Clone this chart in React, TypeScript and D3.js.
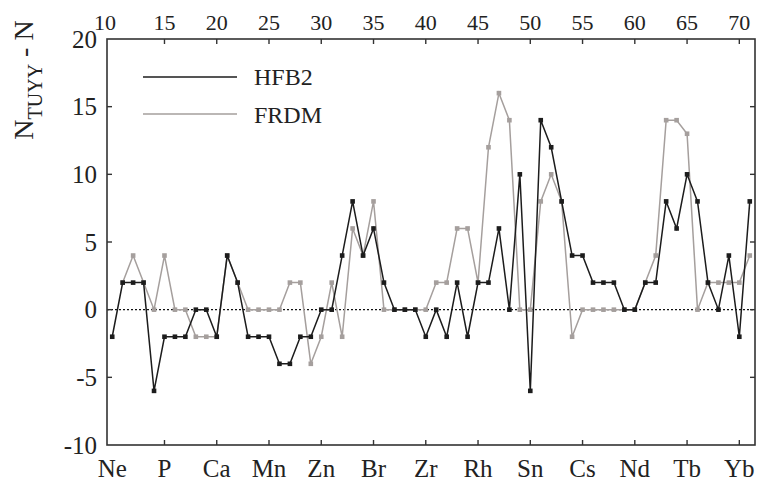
import * as d3 from "d3";
import React from "react";

// proton number of the first point; each array below runs one element per step
const zStart = 10;
const elementLabels = ["Ne", "P", "Ca", "Mn", "Zn", "Br", "Zr", "Rh", "Sn", "Cs", "Nd", "Tb", "Yb"];
const elementZ = [10, 15, 20, 25, 30, 35, 40, 45, 50, 55, 60, 65, 70];
const topTicks = [10, 15, 20, 25, 30, 35, 40, 45, 50, 55, 60, 65, 70];
const yTicks = [-10, -5, 0, 5, 10, 15, 20];

// Z = 10 .. 71
const hfb2 = [
  -2, 2, 2, 2, -6, -2, -2, -2, 0, 0,
  -2, 4, 2, -2, -2, -2, -4, -4, -2, -2,
  0, 0, 4, 8, 4, 6, 2, 0, 0, 0,
  -2, 0, -2, 2, -2, 2, 2, 6, 0, 10,
  -6, 14, 12, 8, 4, 4, 2, 2, 2, 0,
  0, 2, 2, 8, 6, 10, 8, 2, 0, 4,
  -2, 8,
];
// Z = 11 .. 71
const frdmStart = 11;
const frdm = [
  2, 4, 2, 0, 4, 0, 0, -2, -2,
  -2, 4, 2, 0, 0, 0, 0, 2, 2, -4,
  -2, 2, -2, 6, 4, 8, 0, 0, 0, 0,
  0, 2, 2, 6, 6, 2, 12, 16, 14, 0,
  0, 8, 10, 8, -2, 0, 0, 0, 0, 0,
  0, 2, 4, 14, 14, 13, 0, 2, 2, 2,
  2, 4,
];

const W = 760;
const H = 483;
const left = 107;
const right = 755;
const top = 39;
const bottom = 445;
const font = "Liberation Serif, Tinos, DejaVu Serif, Times New Roman, serif";

type Pt = { z: number; v: number };

function Series({ data, color, x, y }: { data: Pt[]; color: string; x: d3.ScaleLinear<number, number>; y: d3.ScaleLinear<number, number> }) {
  const line = d3
    .line<Pt>()
    .x((d) => x(d.z))
    .y((d) => y(d.v));
  const s = 4.6;
  return (
    <g>
      <path d={line(data) || ""} fill="none" stroke={color} strokeWidth={1.5} strokeLinejoin="miter" />
      {data.map((d) => (
        <rect key={d.z} x={x(d.z) - s / 2} y={y(d.v) - s / 2} width={s} height={s} fill={color} />
      ))}
    </g>
  );
}

export default function App() {
  const x = d3.scaleLinear().domain([9.5, 71.5]).range([left, right]);
  const y = d3.scaleLinear().domain([-10, 20]).range([bottom, top]);

  const hfbPts: Pt[] = hfb2.map((v, i) => ({ z: zStart + i, v }));
  const frdmPts: Pt[] = frdm.map((v, i) => ({ z: frdmStart + i, v }));

  const axisColor = "#333";
  const tickLen = 5;
  const txt = { fontFamily: font };

  return (
    <svg width={W} height={H} style={{ position: "absolute", left: 0, top: 0, background: "#fff", fontFamily: font }}>
      {/* zero line */}
      <line x1={left} x2={right} y1={y(0)} y2={y(0)} stroke="#111" strokeWidth={1.2} strokeDasharray="2,2" />

      <Series data={frdmPts} color="#a59f9d" x={x} y={y} />
      <Series data={hfbPts} color="#1c1c1c" x={x} y={y} />

      {/* frame */}
      <rect x={left} y={top} width={right - left} height={bottom - top} fill="none" stroke={axisColor} strokeWidth={1.6} />

      {/* top / bottom ticks */}
      {topTicks
        .filter((t) => t > 10)
        .map((t) => (
          <g key={"t" + t}>
            <line x1={x(t)} x2={x(t)} y1={top} y2={top + tickLen} stroke={axisColor} strokeWidth={1.4} />
            <line x1={x(t)} x2={x(t)} y1={bottom} y2={bottom - tickLen} stroke={axisColor} strokeWidth={1.4} />
          </g>
        ))}
      {topTicks.map((t) => (
        <text key={"tl" + t} style={txt} x={t === 10 ? left - 2 : x(t)} y={30} fontSize={22} textAnchor="middle" fill="#222">
          {t}
        </text>
      ))}

      {/* left / right ticks */}
      {yTicks
        .filter((t) => t > -10 && t < 20)
        .map((t) => (
          <g key={"y" + t}>
            <line x1={left} x2={left + tickLen} y1={y(t)} y2={y(t)} stroke={axisColor} strokeWidth={1.4} />
            <line x1={right} x2={right - tickLen} y1={y(t)} y2={y(t)} stroke={axisColor} strokeWidth={1.4} />
          </g>
        ))}
      {yTicks.map((t) => (
        <text key={"yl" + t} style={txt} x={97} y={y(t)} dy="0.35em" fontSize={25} textAnchor="end" fill="#222">
          {t}
        </text>
      ))}

      {/* element labels */}
      {elementLabels.map((lab, i) => (
        <text key={lab} style={txt} x={x(elementZ[i])} y={477} fontSize={25} textAnchor="middle" fill="#222">
          {lab}
        </text>
      ))}

      {/* y label */}
      <text style={txt} transform="translate(33,80) rotate(-90)" textAnchor="middle" fontSize={28} fill="#222">
        N
        <tspan fontSize={20} dy={9}>
          TUYY
        </tspan>
        <tspan dy={-9}> - N</tspan>
      </text>

      {/* legend */}
      <line x1={143} x2={237} y1={77} y2={77} stroke="#1c1c1c" strokeWidth={1.5} />
      <text style={txt} x={254} y={85} fontSize={24} fill="#222">
        HFB2
      </text>
      <line x1={143} x2={237} y1={114} y2={114} stroke="#a59f9d" strokeWidth={1.5} />
      <text style={txt} x={254} y={123} fontSize={24} fill="#222">
        FRDM
      </text>
    </svg>
  );
}
